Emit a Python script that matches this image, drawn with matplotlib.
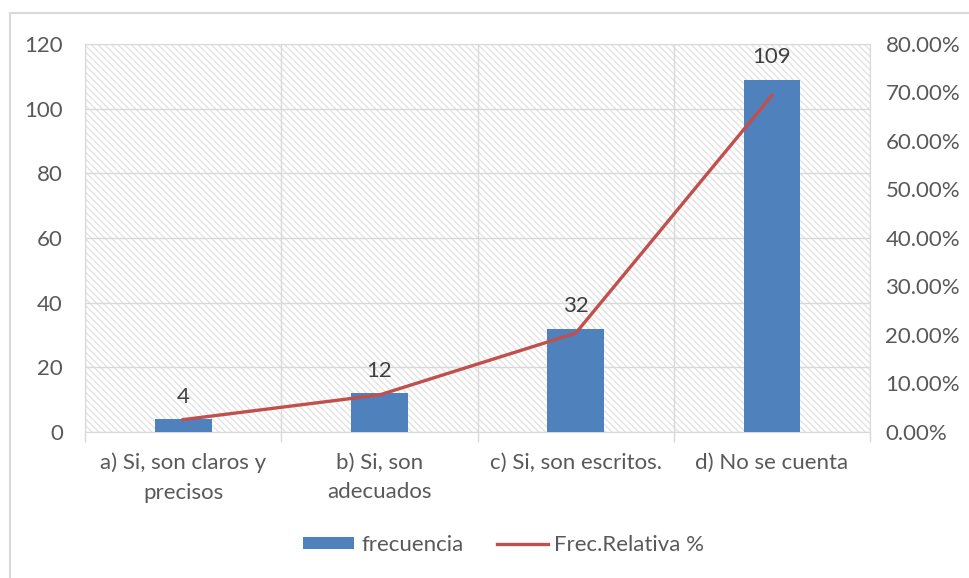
import matplotlib.pyplot as plt
from matplotlib.patches import Rectangle
from matplotlib.ticker import FuncFormatter, FixedLocator

categorias = ["a) Si, son claros y\nprecisos", "b) Si, son\nadecuados",
              "c) Si, son escritos.", "d) No se cuenta"]
frecuencia = [4, 12, 32, 109]
frec_relativa = [2.55, 7.64, 20.38, 69.43]

plt.rcParams['font.family'] = ['Lato', 'DejaVu Sans']
plt.rcParams['hatch.linewidth'] = 1.0
gris = '#595959'
rejilla = '#d9d9d9'
fs = 16

fig = plt.figure(figsize=(9.69, 5.78), dpi=100)
ax = fig.add_axes([0.0877, 0.2526, 0.8103, 0.6713])

# fondo rayado del area de trazado
ax.patch.set_facecolor('white')
ax.patch.set_hatch('\\\\\\\\\\')
ax.patch.set_edgecolor('#e3e3e3')
ax.patch.set_linewidth(0)

x = list(range(len(categorias)))
ax.bar(x, frecuencia, width=0.29, color='#4F81BD', zorder=3, label='frecuencia')
for xi, v in zip(x, frecuencia):
    ax.annotate(str(v), (xi, v), xytext=(0, 9), textcoords='offset points',
                ha='center', va='bottom', fontsize=fs, color='#404040')

ax.set_xlim(-0.5, 3.5)
ax.set_ylim(0, 120)
ax.set_yticks(range(0, 121, 20))
ax.set_xticks(x)
ax.set_xticklabels(categorias, fontsize=fs, color=gris, linespacing=1.6)
ax.xaxis.set_minor_locator(FixedLocator([-0.5, 0.5, 1.5, 2.5, 3.5]))
ax.tick_params(axis='x', which='major', length=0, pad=15)
ax.tick_params(axis='x', which='minor', length=7, color=rejilla, width=1)
ax.tick_params(axis='y', length=0, pad=16, labelsize=fs, labelcolor=gris)
ax.grid(axis='y', color=rejilla, linewidth=1, zorder=1)
ax.grid(axis='x', which='minor', color=rejilla, linewidth=1, zorder=1)
for s in ax.spines.values():
    s.set_color(rejilla)
ax.set_axisbelow(True)

ax2 = ax.twinx()
ax2.plot(x, frec_relativa, color='#C0504D', linewidth=2.4, zorder=4,
         label='Frec.Relativa %')
ax2.set_ylim(0, 80)
ax2.set_yticks(range(0, 81, 10))
ax2.yaxis.set_major_formatter(FuncFormatter(lambda v, p: '%.2f%%' % v))
ax2.tick_params(axis='y', length=0, pad=11, labelsize=fs, labelcolor=gris)
for s in ax2.spines.values():
    s.set_visible(False)

h1, l1 = ax.get_legend_handles_labels()
h2, l2 = ax2.get_legend_handles_labels()
fig.legend(h1 + h2, l1 + l2, loc='center', bbox_to_anchor=(0.52, 0.057),
           ncol=2, frameon=False, fontsize=fs, labelcolor=gris,
           handlelength=2.3, handleheight=0.45, handletextpad=0.3,
           columnspacing=1.5)

# borde exterior del grafico
fig.patches.append(Rectangle((10 / 969, -0.2), 1.2, 1.2 - 13 / 578,
                             transform=fig.transFigure, fill=False,
                             edgecolor=rejilla, linewidth=1.5))

fig.savefig('out.png', dpi=100)
